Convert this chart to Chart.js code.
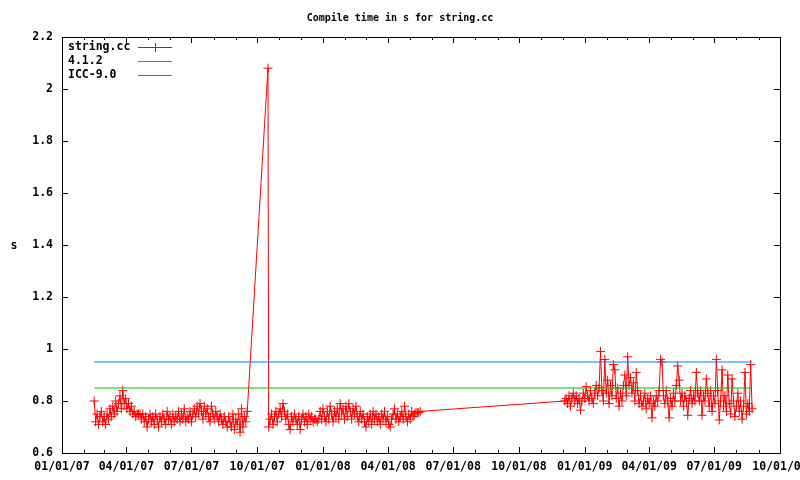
<!DOCTYPE html>
<html>
<head>
<meta charset="utf-8">
<script src="https://cdn.jsdelivr.net/npm/chart.js@4.4.1/dist/chart.umd.min.js"></script>
<style>
  body { margin: 0; background: #fff; }
</style>
</head>
<body>
<canvas id="compileChart" width="800" height="480"></canvas>
<script>
// days since 01/01/07 for each nightly build
const buildDay = [
  45, 47, 49, 51, 53, 55, 57, 59, 61, 63, 65, 67, 69, 71, 73, 75, 77, 79, 81, 83,
  85, 87, 89, 91, 93, 95, 97, 99, 101, 103, 105, 107, 109, 111, 113, 115, 117, 119, 121, 123,
  125, 127, 129, 131, 133, 135, 137, 139, 141, 143, 145, 147, 149, 151, 153, 155, 157, 159, 161, 163,
  165, 167, 169, 171, 173, 175, 177, 179, 181, 183, 185, 187, 189, 191, 193, 195, 197, 199, 201, 203,
  205, 207, 209, 211, 213, 215, 217, 219, 221, 223, 225, 227, 229, 231, 233, 235, 237, 239, 241, 243,
  245, 247, 249, 251, 253, 255, 257, 259,
  288, 289,
  291, 293, 295, 297, 299, 301, 303, 305, 307, 309, 311, 313, 315, 317, 319, 321, 323, 325, 327, 329,
  331, 333, 335, 337, 339, 341, 343, 345, 347, 349, 351, 353, 355, 357, 359, 361, 363, 365, 367, 369,
  371, 373, 375, 377, 379, 381, 383, 385, 387, 389, 391, 393, 395, 397, 399, 401, 403, 405, 407, 409,
  411, 413, 415, 417, 419, 421, 423, 425, 427, 429, 431, 433, 435, 437, 439, 441, 443, 445, 447, 449,
  451, 453, 455, 457, 459, 461, 463, 465, 467, 469, 471, 473, 475, 477, 479, 481, 483, 485, 487, 489,
  491, 493, 495, 497, 499, 501,
  703, 705, 707, 709, 711, 713, 715, 717, 719, 721, 723, 725, 727, 729, 731, 733, 735, 737, 739, 741,
  743, 745, 747, 749, 751, 753, 755, 757, 759, 761, 763, 765, 767, 769, 771, 773, 775, 777, 779, 781,
  783, 785, 787, 789, 791, 793, 795, 797, 799, 801, 803, 805, 807, 809, 811, 813, 815, 817, 819, 821,
  823, 825, 827, 829, 831, 833, 835, 837, 839, 841, 843, 845, 847, 849, 851, 853, 855, 857, 859, 861,
  863, 865, 867, 869, 871, 873, 875, 877, 879, 881, 883, 885, 887, 889, 891, 893, 895, 897, 899, 901,
  903, 905, 907, 909, 911, 913, 915, 917, 919, 921, 923, 925, 927, 929, 931, 933, 935, 937, 939, 941,
  943, 945, 947, 949, 951, 953, 955, 957, 959, 961, 963, 965
];

// compile time of string.cc in seconds
const compileSec = [
  0.80, 0.72, 0.75, 0.71, 0.74, 0.76, 0.72, 0.74, 0.71, 0.75, 0.73, 0.77, 0.74, 0.78, 0.75, 0.80, 0.76, 0.79, 0.82, 0.77,
  0.84, 0.79, 0.81, 0.77, 0.79, 0.76, 0.78, 0.75, 0.76, 0.74, 0.75, 0.75, 0.75, 0.73, 0.75, 0.72, 0.74, 0.70, 0.73, 0.75,
  0.72, 0.74, 0.71, 0.75, 0.73, 0.70, 0.74, 0.72, 0.75, 0.73, 0.71, 0.76, 0.73, 0.74, 0.71, 0.75, 0.72, 0.74, 0.73, 0.76,
  0.72, 0.75, 0.73, 0.77, 0.72, 0.74, 0.73, 0.76, 0.72, 0.75, 0.77, 0.74, 0.78, 0.75, 0.79, 0.76, 0.73, 0.78, 0.75, 0.77,
  0.74, 0.72, 0.78, 0.75, 0.73, 0.76, 0.74, 0.72, 0.75, 0.73, 0.71, 0.74, 0.72, 0.70, 0.74, 0.72, 0.70, 0.75, 0.69, 0.73,
  0.71, 0.75, 0.68, 0.77, 0.70, 0.74, 0.72, 0.76,
  2.08, 0.70,
  0.73, 0.75, 0.71, 0.74, 0.76, 0.72, 0.75, 0.77, 0.74, 0.79, 0.76, 0.73, 0.75, 0.71, 0.69, 0.74, 0.72, 0.75, 0.73, 0.71,
  0.74, 0.69, 0.73, 0.75, 0.72, 0.74, 0.71, 0.75, 0.73, 0.74, 0.72, 0.73, 0.73, 0.72, 0.73, 0.76, 0.73, 0.77, 0.74, 0.72,
  0.76, 0.73, 0.78, 0.75, 0.72, 0.76, 0.74, 0.77, 0.73, 0.79, 0.75, 0.77, 0.73, 0.78, 0.74, 0.79, 0.76, 0.73, 0.77, 0.75,
  0.78, 0.74, 0.72, 0.76, 0.73, 0.75, 0.72, 0.70, 0.74, 0.72, 0.75, 0.71, 0.76, 0.73, 0.75, 0.72, 0.74, 0.71, 0.75, 0.73,
  0.76, 0.72, 0.74, 0.71, 0.70, 0.73, 0.75, 0.77, 0.73, 0.75, 0.72, 0.74, 0.76, 0.73, 0.78, 0.74, 0.72, 0.75, 0.73, 0.76,
  0.74, 0.75, 0.755, 0.755, 0.755, 0.76,
  0.80, 0.81, 0.79, 0.82, 0.78, 0.81, 0.83, 0.80, 0.82, 0.79, 0.81, 0.765, 0.80, 0.83, 0.81, 0.855, 0.82, 0.80, 0.84, 0.81,
  0.79, 0.83, 0.86, 0.82, 0.85, 0.99, 0.84, 0.80, 0.96, 0.83, 0.88, 0.79, 0.86, 0.82, 0.94, 0.92, 0.81, 0.85, 0.78, 0.83,
  0.80, 0.86, 0.90, 0.82, 0.97, 0.86, 0.89, 0.83, 0.87, 0.80, 0.91, 0.84, 0.79, 0.82, 0.78, 0.80, 0.83, 0.77, 0.81, 0.79,
  0.82, 0.735, 0.80, 0.78, 0.82, 0.80, 0.84, 0.96, 0.95, 0.82, 0.79, 0.84, 0.80, 0.735, 0.81, 0.78, 0.83, 0.80, 0.86, 0.935,
  0.88, 0.80, 0.83, 0.78, 0.82, 0.80, 0.745, 0.81, 0.84, 0.79, 0.82, 0.80, 0.91, 0.83, 0.80, 0.84, 0.745, 0.82, 0.80, 0.885,
  0.83, 0.78, 0.84, 0.76, 0.82, 0.79, 0.96, 0.84, 0.727, 0.80, 0.92, 0.78, 0.82, 0.76, 0.90, 0.79, 0.75, 0.885, 0.80, 0.74,
  0.78, 0.83, 0.76, 0.80, 0.73, 0.78, 0.91, 0.75, 0.79, 0.76, 0.94, 0.77
];

// reference compilers, drawn as flat lines across the build range
const refDays = [45, 965];
const gcc412 = [0.85, 0.85];
const icc90 = [0.95, 0.95];

const quarterDays = [0, 90, 181, 273, 365, 456, 547, 639, 731, 821, 912, 1004];
const quarterLabels = ['01/01/07', '04/01/07', '07/01/07', '10/01/07', '01/01/08', '04/01/08',
  '07/01/08', '10/01/08', '01/01/09', '04/01/09', '07/01/09', '10/01/09'];
const yTicks = [0.6, 0.8, 1.0, 1.2, 1.4, 1.6, 1.8, 2.0, 2.2];

const lineColors = ['#ff0000', '#00c000', '#0080ff'];
const monoFont = 'bold 11.5px "DejaVu Sans Mono", monospace';

// month starts for the small tics
const monthDays = [];
for (let y = 2007; y <= 2009; y++) {
  for (let m = 0; m < 12; m++) {
    const d = (Date.UTC(y, m, 1) - Date.UTC(2007, 0, 1)) / 86400000;
    if (d <= 1004) monthDays.push(d);
  }
}

const framePlugin = {
  id: 'gnuplotFrame',
  afterDraw(chart) {
    const c = chart.ctx;
    const a = chart.chartArea;
    const xs = chart.scales.x;
    const ys = chart.scales.y;
    c.save();
    c.strokeStyle = '#000';
    c.lineWidth = 1;
    c.strokeRect(Math.round(a.left) + 0.5, Math.round(a.top) + 0.5,
      Math.round(a.right - a.left), Math.round(a.bottom - a.top));

    c.beginPath();
    monthDays.forEach(function(d) {
      const px = Math.round(xs.getPixelForValue(d)) + 0.5;
      const len = quarterDays.includes(d) ? 6 : 3;
      c.moveTo(px, a.bottom); c.lineTo(px, a.bottom - len);
      c.moveTo(px, a.top); c.lineTo(px, a.top + len);
    });
    yTicks.forEach(function(v) {
      const py = Math.round(ys.getPixelForValue(v)) + 0.5;
      c.moveTo(a.left, py); c.lineTo(a.left + 6, py);
      c.moveTo(a.right, py); c.lineTo(a.right - 6, py);
    });
    c.stroke();

    // title and y label
    c.fillStyle = '#000';
    c.textAlign = 'center';
    c.textBaseline = 'middle';
    c.font = 'bold 10px "DejaVu Sans Mono", monospace';
    c.fillText('Compile time in s for string.cc', 400, 18);
    c.font = monoFont;
    c.fillText('s', 14, 246);

    // key, gnuplot style: text first, then sample
    c.textAlign = 'left';
    chart.data.datasets.forEach(function(ds, i) {
      const y = 47 + i * 14;
      c.fillStyle = '#000';
      c.fillText(ds.label, 68, y);
      c.fillStyle = lineColors[i];
      c.fillRect(138, y, 34, 1);
      if (i === 0) c.fillRect(155, y - 4, 1, 9);
    });
    c.restore();
  }
};

const ctx = document.getElementById('compileChart');
new Chart(ctx, {
  type: 'line',
  data: {
    datasets: [{
      label: 'string.cc',
      data: buildDay.map((d, i) => ({ x: d, y: compileSec[i] })),
      borderColor: lineColors[0],
      backgroundColor: lineColors[0],
      borderWidth: 1,
      pointStyle: 'cross',
      pointRadius: 4.5,
      pointBorderWidth: 1,
      tension: 0,
      order: 2
    }, {
      label: '4.1.2',
      data: refDays.map((d, i) => ({ x: d, y: gcc412[i] })),
      borderColor: lineColors[1],
      borderWidth: 1,
      pointRadius: 0,
      order: 1
    }, {
      label: 'ICC-9.0',
      data: refDays.map((d, i) => ({ x: d, y: icc90[i] })),
      borderColor: lineColors[2],
      borderWidth: 1,
      pointRadius: 0,
      order: 0
    }]
  },
  options: {
    responsive: false,
    animation: false,
    layout: { padding: { top: 37, right: 20, left: 0, bottom: 0 } },
    plugins: {
      legend: { display: false },
      title: { display: false },
      tooltip: { enabled: false }
    },
    scales: {
      x: {
        type: 'linear',
        min: 0,
        max: 1004,
        grid: { display: false, drawTicks: false },
        border: { display: false },
        afterBuildTicks: function(scale) {
          scale.ticks = quarterDays.map(v => ({ value: v }));
        },
        afterFit: function(scale) {
          scale.height = 27;
          scale.paddingLeft = 0;
          scale.paddingRight = 0;
        },
        ticks: {
          autoSkip: false,
          maxRotation: 0,
          padding: 7,
          color: '#000',
          font: { family: '"DejaVu Sans Mono", monospace', size: 11.5, weight: 'bold' },
          callback: function(v, i) { return quarterLabels[i]; }
        }
      },
      y: {
        min: 0.6,
        max: 2.2,
        grid: { display: false, drawTicks: false },
        border: { display: false },
        afterBuildTicks: function(scale) {
          scale.ticks = yTicks.map(v => ({ value: v }));
        },
        afterFit: function(scale) {
          scale.width = 62;
        },
        ticks: {
          padding: 9,
          color: '#000',
          font: { family: '"DejaVu Sans Mono", monospace', size: 11.5, weight: 'bold' },
          callback: function(v) { return String(+v.toFixed(1)); }
        }
      }
    }
  },
  plugins: [framePlugin]
});
</script>
</body>
</html>
